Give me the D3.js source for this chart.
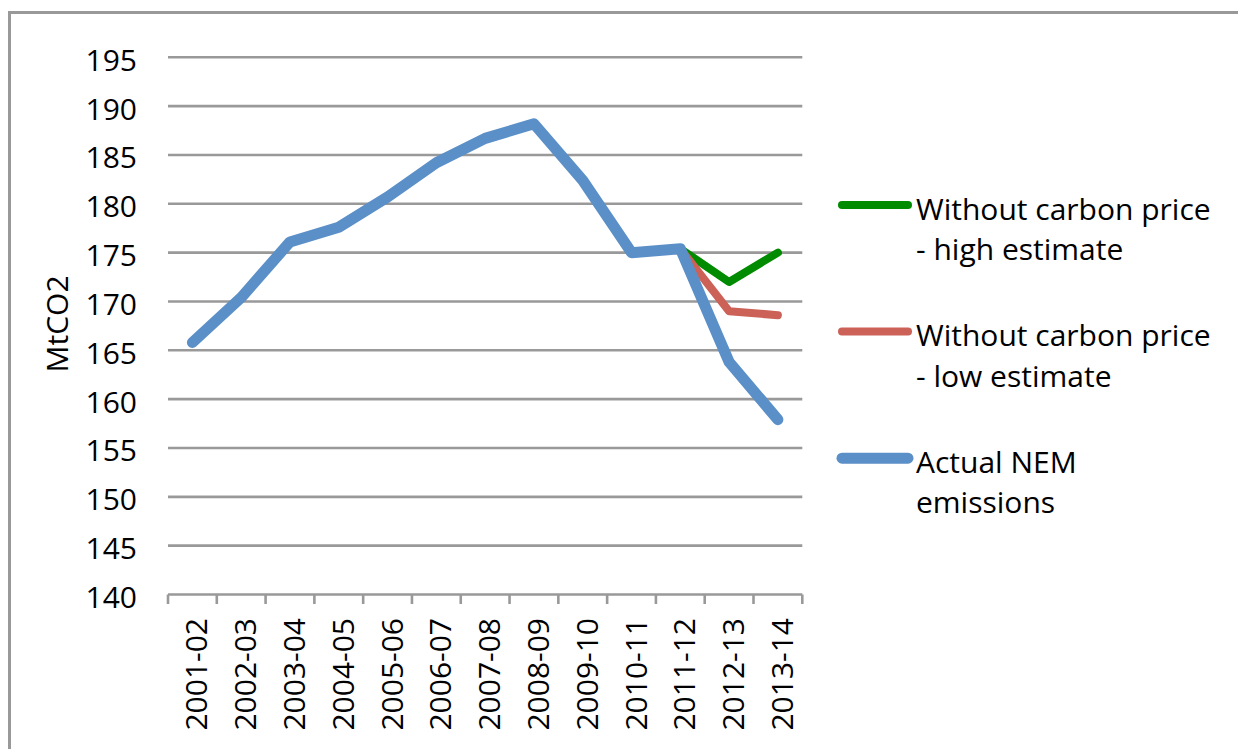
<!DOCTYPE html>
<html>
<head>
<meta charset="utf-8">
<script src="https://cdn.jsdelivr.net/npm/d3@7"></script>
<style>
  html, body { margin: 0; padding: 0; background: #fff; }
  svg { display: block; }
  text { font-family: "Open Sans", "Liberation Sans", sans-serif; fill: #000; }
</style>
</head>
<body>
<svg id="chart" width="1238" height="749"></svg>
<script>
const categories = ["2001-02","2002-03","2003-04","2004-05","2005-06","2006-07","2007-08","2008-09","2009-10","2010-11","2011-12","2012-13","2013-14"];
const actualNEM = [165.8,170.4,176.1,177.6,180.7,184.2,186.7,188.2,182.4,175.0,175.4,163.8,157.9];
const highEstimate = [null,null,null,null,null,null,null,null,null,null,175.4,172.0,175.0];
const lowEstimate = [null,null,null,null,null,null,null,null,null,null,175.4,169.0,168.6];
const yTicks = [140,145,150,155,160,165,170,175,180,185,190,195];
const seriesNames = ["Without carbon price|- high estimate","Without carbon price|- low estimate","Actual NEM|emissions"];
const seriesColors = ["#008B00","#CC6158","#5B8FC8"];
const seriesWidths = [8,8,11];

const svg = d3.select("#chart");
const FS = 30;

// outer frame
svg.append("rect").attr("x",9.5).attr("y",12.5).attr("width",1400).attr("height",900)
  .attr("fill","none").attr("stroke","#999").attr("stroke-width",3);

const x = d3.scaleBand().domain(categories).range([168, 802.3]);
const cx = d => x(d) + x.bandwidth()/2;
const y = d3.scaleLinear().domain([140,195]).range([594.5, 57.3]);

// gridlines
svg.append("g").selectAll("line").data(yTicks.filter(t => t > 140)).join("line")
  .attr("x1",168).attr("x2",802.3)
  .attr("y1",d=>y(d)).attr("y2",d=>y(d))
  .attr("stroke","#999").attr("stroke-width",2.6);

// x axis
const xAxisG = svg.append("g").attr("transform",`translate(0,${y(140)})`);
xAxisG.append("line").attr("x1",168).attr("x2",802.3).attr("stroke","#999").attr("stroke-width",2.6);
const boundaries = categories.map(c => x(c)).concat([x(categories[categories.length-1]) + x.bandwidth()]);
xAxisG.selectAll("line.tick").data(boundaries).join("line").attr("class","tick")
  .attr("x1",d=>d).attr("x2",d=>d).attr("y1",0).attr("y2",9.5)
  .attr("stroke","#999").attr("stroke-width",2.6);

svg.append("g").selectAll("text").data(categories).join("text")
  .attr("transform", d => `translate(${cx(d)+15},618) rotate(-90)`)
  .attr("text-anchor","end").attr("font-size",FS).text(d=>d);

// y tick labels
svg.append("g").selectAll("text").data(yTicks).join("text")
  .attr("x",137).attr("y",d=>y(d)+13.5)
  .attr("text-anchor","end").attr("font-size",FS).text(d=>d);

// y axis title
svg.append("text").attr("transform","translate(68,324) rotate(-90)")
  .attr("text-anchor","middle").attr("font-size",FS).text("MtCO2");

// lines
const line = d3.line().defined(d => d.v != null).x(d => cx(d.c)).y(d => y(d.v));
const series = [highEstimate, lowEstimate, actualNEM];
series.forEach((vals, i) => {
  const data = categories.map((c, j) => ({c, v: vals[j]}));
  svg.append("path").datum(data).attr("d", line)
    .attr("fill","none").attr("stroke",seriesColors[i]).attr("stroke-width",seriesWidths[i])
    .attr("stroke-linejoin","round").attr("stroke-linecap","round");
});

// legend
const lg = svg.append("g");
seriesNames.forEach((name, i) => {
  const ly = 205 + i*126.6;
  lg.append("line").attr("x1",842).attr("x2",908).attr("y1",ly).attr("y2",ly)
    .attr("stroke",seriesColors[i]).attr("stroke-width",seriesWidths[i]).attr("stroke-linecap","round");
  const t = lg.append("text").attr("x",916).attr("y",ly+14.5).attr("font-size",FS);
  name.split("|").forEach((part, k) => {
    t.append("tspan").attr("x",916).attr("dy", k === 0 ? 0 : 40.5).text(part);
  });
});
</script>
</body>
</html>
